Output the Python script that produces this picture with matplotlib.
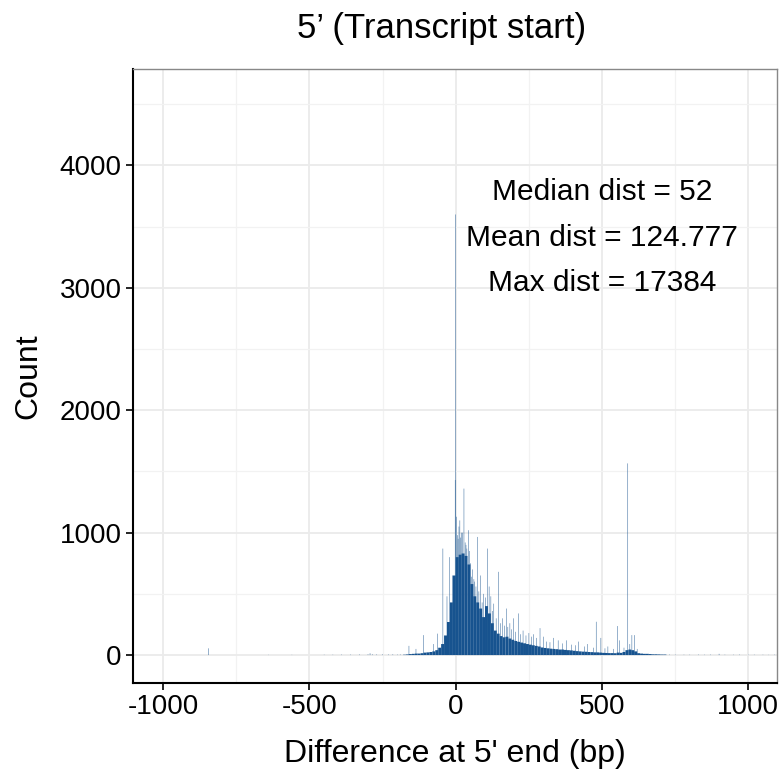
import numpy as np
import matplotlib
matplotlib.use("Agg")
import matplotlib.pyplot as plt
from matplotlib.ticker import MultipleLocator

plt.rcParams['font.family'] = ['Liberation Sans', 'DejaVu Sans']

# per-bp counts, averaged over 10 bp groups (dense central part)
body_start = -180
body_width = 10
body_counts = [3, 5, 8, 10, 12, 12, 15, 20, 22, 25,
               30, 40, 60, 90, 160, 270, 430, 650, 800, 820,
               830, 810, 740, 580, 480, 430, 380, 310, 400, 340,
               260, 200, 175, 155, 145, 150, 135, 125, 115, 108,
               102, 96, 90, 85, 80, 75, 70, 62, 58, 55,
               52, 50, 48, 45, 45, 42, 40, 38, 35, 32,
               30, 28, 27, 25, 24, 22, 22, 20, 18, 17,
               16, 16, 15, 20, 18, 25, 40, 45, 40, 30,
               15, 12, 10, 10, 8, 6, 6, 5, 4, 4]

# single-bp spikes standing out of the body
spike_pos = [0, -2, 3, 14, 28, 43, 74, -44, -22, 108, 146, 174, 197, 214,
             288, 334, 379, 480, 496, 553, 588, 602, 611, -846, -160, -111,
             -136, -63, -77, 8, 20, 35, 50, 58, 65, 85, 95, 120, 130, 160,
             185, 230, 250, 265, 300, 350, 420, 450, 520, 560,
             -30, -12, 5, 11, 17, 23, 32, 38, 46, 54, 62, 69, 79, 90, 101,
             114, 125, 138, 152, 166, 178, 190, 205, 222, 240, 258, 275,
             310, 322, 365, 395, 410, 440, 470, 510, 540, 575, 595, 620]
spike_cnt = [3600, 1430, 1130, 1100, 1360, 1020, 965, 870, 800, 870, 680, 380, 300, 340,
             220, 140, 120, 272, 140, 237, 1566, 163, 163, 55, 75, 163,
             50, 175, 90, 950, 1000, 900, 750, 700, 600, 650, 500, 480, 420, 300,
             260, 200, 180, 170, 150, 120, 110, 90, 70, 120,
             480, 650, 980, 1050, 960, 1000, 920, 870, 850, 640, 620, 560, 520, 430, 470,
             560, 360, 300, 260, 240, 230, 210, 190, 170, 160, 150, 140,
             110, 105, 95, 85, 80, 70, 60, 55, 50, 60, 90, 50]

# sparse tails
tail_pos = [-640, -560, -450, -420, -390, -360, -330, -300, -293, -285, -270, -250,
            -230, -215, -200, -190, 730, 750, 780, 800, 830, 850, 870, 900, 920,
            950, 970, 1000, 1020, 1050, 1070, 1090]
tail_cnt = [2, 2, 3, 3, 4, 4, 5, 6, 15, 6, 5, 6,
            5, 6, 4, 5, 4, 4, 3, 3, 4, 3, 4, 10, 3,
            3, 4, 3, 3, 3, 2, 3]

stats_lines = ["Median dist = 52", "Mean dist = 124.777", "Max dist = 17384"]

fill = '#17538f'

fig = plt.figure(figsize=(7.81, 7.69), dpi=100)
ax = fig.add_axes([0.170, 0.1122, 0.8245, 0.798])

body_x = body_start + body_width * np.arange(len(body_counts))
ax.bar(body_x, body_counts, width=body_width, align='edge', color=fill,
       linewidth=0, zorder=3, snap=False)
ax.bar(spike_pos, spike_cnt, width=1.5, color=fill, linewidth=0, zorder=3, snap=False)
ax.bar(tail_pos, tail_cnt, width=1.5, color=fill, linewidth=0, zorder=3, snap=False)

ax.set_xlim(-1104, 1097)
ax.set_ylim(-226, 4788)
ax.xaxis.set_major_locator(MultipleLocator(500))
ax.xaxis.set_minor_locator(MultipleLocator(250))
ax.yaxis.set_major_locator(MultipleLocator(1000))
ax.yaxis.set_minor_locator(MultipleLocator(500))
ax.grid(which='major', color='#ebebeb', linewidth=1.3, zorder=0)
ax.grid(which='minor', color='#f2f2f2', linewidth=0.9, zorder=0)
ax.set_axisbelow(True)

for s in ['left', 'bottom']:
    ax.spines[s].set_color('black')
    ax.spines[s].set_linewidth(1.5)
for s in ['top', 'right']:
    ax.spines[s].set_color('#888888')
    ax.spines[s].set_linewidth(1.0)

ax.tick_params(which='major', direction='out', length=5, width=1.2, color='black',
               labelsize=20, pad=3)
ax.tick_params(which='minor', length=0)
ax.set_xticks([-1000, -500, 0, 500, 1000])
ax.set_xticklabels(['-1000', '-500', '0', '500', '1000'])

ax.set_xlabel("Difference at 5' end (bp)", fontsize=23, labelpad=14)
ax.set_ylabel("Count", fontsize=23, labelpad=12)
fig.text(0.566, 0.963, "5\u2019 (Transcript start)", fontsize=25, ha='center', va='center')

for txt, yv in zip(stats_lines, [3783, 3410, 3040]):
    ax.text(500, yv, txt, fontsize=21.5, ha='center', va='center', zorder=5)

fig.savefig('out.png', dpi=100)
